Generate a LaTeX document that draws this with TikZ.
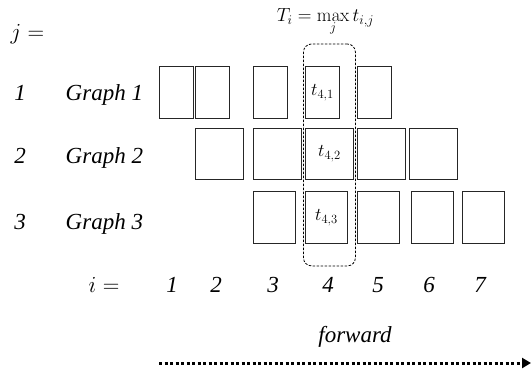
\documentclass[tikz,border=0pt]{standalone}
\usepackage{fix-cm}
\usepackage[no-math]{fontspec}
\setmainfont{Liberation Serif}
\usetikzlibrary{arrows.meta,positioning,fit}

\begin{document}
\begin{tikzpicture}[
    x=1pt, y=1pt,
    every node/.style={font=\fontsize{23}{27}\selectfont\itshape, inner sep=0pt},
    task/.style={draw=black!85, line width=0.9pt, anchor=north west, minimum height=52pt},
    tlabel/.style={font=\fontsize{18}{21}\selectfont},
    maxbox/.style={draw, dashed, dash pattern=on 2.5pt off 1.5pt, line width=0.8pt, rounded corners=8pt, inner xsep=1.5pt, inner ysep=22pt},
    fwdarrow/.style={-{Triangle[length=9pt, width=10pt]}, line width=3pt, dash pattern=on 3pt off 2.5pt}
]
\useasboundingbox (0,0) rectangle (532,-370);

% graph rows
\foreach \col/\x in {1/159,2/195,3/253,5/357}
    \node[task, minimum width=34pt] (g1c\col) at (\x,-66) {};
\node[task, minimum width=34pt, tlabel] (g1c4) at (305,-66) {$t_{4,1}$};
\foreach \col/\x in {2/195,3/253,5/357,6/409}
    \node[task, minimum width=48pt, minimum height=51pt] (g2c\col) at (\x,-128) {};
\node[task, minimum width=48pt, minimum height=51pt, tlabel] (g2c4) at (305,-128) {$t_{4,2}$};
\foreach \col/\x in {3/253,5/357,6/411,7/462}
    \node[task, minimum width=42pt] (g3c\col) at (\x,-191) {};
\node[task, minimum width=42pt, tlabel] (g3c4) at (305,-191) {$t_{4,3}$};

\node[maxbox, fit=(g1c4)(g2c4)(g3c4)] (maxcol) {};
\node[above=8pt of maxcol, xshift=-4pt, font=\fontsize{19}{22}\selectfont] (tmax) {$T_i = \max\limits_j t_{i,j}$};

% row labels
\node[anchor=base west] (jeq) at (10.5,-39) {$j =$};
\foreach \row/\y in {1/-100,2/-163,3/-229} {
    \node[anchor=base] (j\row) at (20,\y) {\row};
    \node[anchor=base west] (graph\row) at (65.5,\y) {Graph \row};
}

% column labels
\node[anchor=base west] (ieq) at (88.5,-292) {$i =$};
\foreach \col/\x in {1/172,2/216,3/273,4/328,5/378,6/429,7/480}
    \node[anchor=base] (i\col) at (\x,-292) {\col};

\node[anchor=base] (fwd) at (355,-342) {forward};
\coordinate (fwdstart) at (159,-363);
\coordinate (fwdend) at (531,-363);
\draw[fwdarrow] (fwdstart) -- (fwdend);
\end{tikzpicture}
\end{document}
